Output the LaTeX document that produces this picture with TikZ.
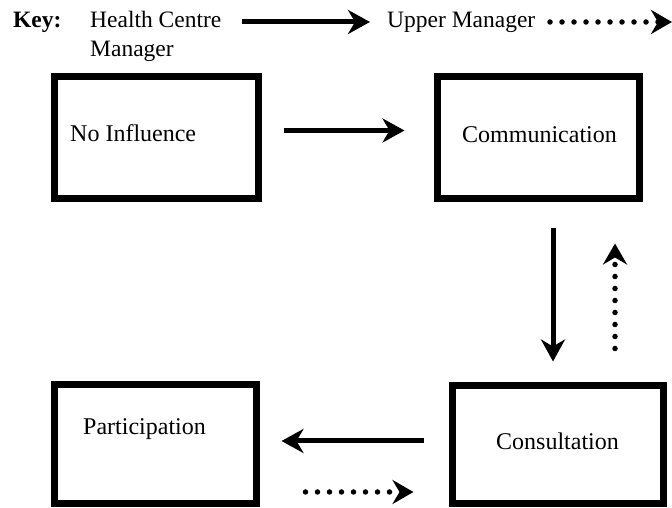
\documentclass[tikz,border=0pt]{standalone}
\usepackage{fontspec}
\setmainfont{Liberation Serif}
\usetikzlibrary{arrows.meta,calc}
\tikzset{
  stagebox/.style={draw=black, line width=7pt, inner sep=0pt, fill=white},
  boxtext/.style={inner sep=0pt, font=\fontsize{24}{28}\selectfont},
  keytext/.style={inner sep=0pt, font=\fontsize{23.5}{28}\selectfont},
  mgrarrow/.style={line width=5pt, -{Stealth[length=22pt,width=24pt,inset=7pt]}},
  uparrow/.style={line width=5.5pt, line cap=round, dash pattern=on 0pt off 12pt,
    -{Stealth[length=21pt,width=24pt,inset=7pt]}}
}
\begin{document}
\begin{tikzpicture}[x=1pt,y=1pt]
\useasboundingbox (0,0) rectangle (672,508);
% boxes
\node[stagebox, minimum width=204pt, minimum height=122pt] (b1) at (156.5,370.5) {};
\node[stagebox, minimum width=202pt, minimum height=122pt] (b2) at (538.5,370.5) {};
\node[stagebox, minimum width=202pt, minimum height=119pt] (b3) at (155.5,64) {};
\node[stagebox, minimum width=211pt, minimum height=118pt] (b4) at (558,63.5) {};
% box texts
\node[boxtext, anchor=base west] (t1) at (70,366) {No Influence};
\node[boxtext, anchor=base] (t2) at (539.5,365) {Communication};
\node[boxtext, anchor=base west] (t3) at (83,73) {Participation};
\node[boxtext, anchor=base] (t4) at (557.5,58) {Consultation};
% connectors
\draw[mgrarrow, shorten <=21.5pt, shorten >=29.5pt]
  ([yshift=7pt]b1.east) -- ([yshift=7pt]b2.west);
\draw[mgrarrow, shorten <=26.5pt, shorten >=20.5pt]
  ([xshift=14.5pt]b2.south) -- ([xshift=14.5pt]b2.south |- b4.north);
\draw[uparrow, shorten <=33.5pt, shorten >=41.5pt]
  ([xshift=57pt]b4.north) -- ([xshift=57pt]b4.north |- b2.south);
\draw[mgrarrow, shorten <=25.5pt, shorten >=21.5pt]
  ([yshift=3.5pt]b4.west) -- ([yshift=3.5pt]b4.west -| b3.east);
\draw[uparrow, shorten <=45.5pt, shorten >=35.5pt]
  ([yshift=-48pt]b3.east) -- ([yshift=-48pt]b3.east -| b4.west);
% key
\node[keytext, anchor=base west, font=\fontsize{23.5}{28}\selectfont\bfseries] (key) at (13,480) {Key:};
\node[keytext, anchor=base west] (khc) at (90,480) {Health Centre};
\node[keytext, anchor=base west] (kmg) at (90,451) {Manager};
\node[keytext, anchor=base west] (kum) at (387,480) {Upper Manager};
\coordinate (ks1) at (242,486);
\coordinate (ke1) at (370,486);
\coordinate (ks2) at (550,486);
\coordinate (ke2) at (672,486);
\draw[mgrarrow] (ks1) -- (ke1);
\draw[uparrow] (ks2) -- (ke2);
\end{tikzpicture}
\end{document}
